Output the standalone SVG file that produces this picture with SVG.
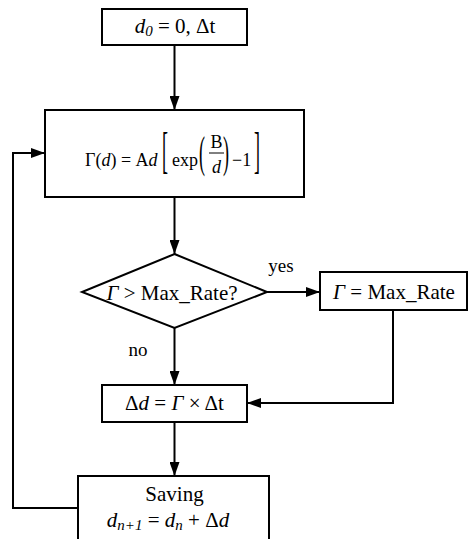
<svg xmlns="http://www.w3.org/2000/svg" width="469" height="539" viewBox="0 0 469 539">
<defs>
<marker id="ah" markerWidth="14" markerHeight="10" refX="14" refY="5" orient="auto" markerUnits="userSpaceOnUse">
<path d="M0,0 L14,5 L0,10 Z" fill="#000"/>
</marker>
<style>
.box{fill:#fff;stroke:#000;stroke-width:2}
.ln{fill:none;stroke:#000;stroke-width:2}
.t{font-family:"Liberation Serif","Times New Roman",serif;fill:#000}
.i{font-style:italic}
</style>
</defs>
<rect width="469" height="539" fill="#fff"/>
<g id="connectors">
<line class="ln" x1="174.5" y1="45" x2="174.5" y2="110" marker-end="url(#ah)"/>
<line class="ln" x1="174.5" y1="197" x2="174.5" y2="254" marker-end="url(#ah)"/>
<line class="ln" x1="267" y1="292" x2="320" y2="292" marker-end="url(#ah)"/>
<line class="ln" x1="174.5" y1="328" x2="174.5" y2="385" marker-end="url(#ah)"/>
<polyline class="ln" points="393,310 393,403 247,403" marker-end="url(#ah)"/>
<line class="ln" x1="174.5" y1="422" x2="174.5" y2="476" marker-end="url(#ah)"/>
<polyline class="ln" points="78,508 13,508 13,153 45,153" marker-end="url(#ah)"/>
<text class="t" x="281" y="272" font-size="19" text-anchor="middle">yes</text>
<text class="t" x="138" y="356" font-size="19" text-anchor="middle">no</text>
</g>
<g id="start">
<rect class="box" x="102" y="9" width="145" height="36"/>
<text class="t" x="175" y="33" font-size="21" text-anchor="middle"><tspan class="i">d</tspan><tspan class="i" font-size="15" dy="3">0</tspan><tspan dy="-3"> = 0, Δt</tspan></text>
</g>
<g id="rate">
<rect class="box" x="45" y="110" width="259" height="87"/>
<text class="t" x="85" y="166" font-size="18">Γ(<tspan class="i">d</tspan>) = A<tspan class="i">d</tspan></text>
<text class="t" font-size="18" transform="translate(162,167) scale(1,2.8)">[</text>
<text class="t" x="172" y="166" font-size="18">exp</text>
<text class="t" font-size="18" transform="translate(199,167) scale(1,2.5)">(</text>
<text class="t" x="216.5" y="148" font-size="18" text-anchor="middle">B</text>
<line x1="209" y1="153" x2="224" y2="153" stroke="#000" stroke-width="1"/>
<text class="t i" x="216.5" y="173" font-size="18" text-anchor="middle">d</text>
<text class="t" font-size="18" transform="translate(223,167) scale(1,2.5)">)</text>
<text class="t" x="232" y="166" font-size="18">−1</text>
<text class="t" font-size="18" transform="translate(254,167) scale(1,2.8)">]</text>
</g>
<g id="decision">
<polygon class="box" points="174.5,254 267,292 174.5,328 82,292"/>
<text class="t" x="172" y="300" font-size="21" text-anchor="middle"><tspan class="i">Γ</tspan> &gt; Max_Rate?</text>
</g>
<g id="clamp">
<rect class="box" x="320" y="272" width="147" height="38"/>
<text class="t" x="394" y="299" font-size="21" text-anchor="middle"><tspan class="i">Γ</tspan> = Max_Rate</text>
</g>
<g id="delta">
<rect class="box" x="102" y="385" width="145" height="37"/>
<text class="t" x="174.5" y="410" font-size="21" text-anchor="middle">Δ<tspan class="i">d</tspan> = <tspan class="i">Γ</tspan> × Δt</text>
</g>
<g id="saving">
<rect class="box" x="78" y="476" width="191" height="70"/>
<text class="t" x="174.5" y="501" font-size="21" text-anchor="middle">Saving</text>
<text class="t" x="168" y="527" font-size="21" text-anchor="middle"><tspan class="i">d</tspan><tspan class="i" font-size="15" dy="3">n+1</tspan><tspan dy="-3"> = </tspan><tspan class="i">d</tspan><tspan class="i" font-size="15" dy="3">n</tspan><tspan dy="-3"> + Δ</tspan><tspan class="i">d</tspan></text>
</g>
</svg>
